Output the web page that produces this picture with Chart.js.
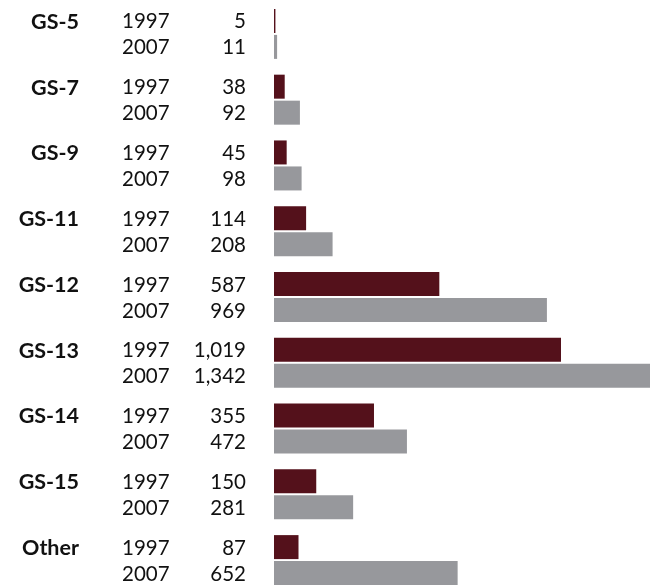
<!DOCTYPE html>
<html lang="en">
<head>
    <meta charset="UTF-8">
    <title>GS grades 1997 vs 2007</title>
    <script src="https://cdn.jsdelivr.net/npm/chart.js"></script>
    <style>
        body {
            margin: 0;
            background: #fff;
            overflow: hidden;
        }
        .grafico {
            position: relative;
            width: 650px;
            height: 593px;
        }
    </style>
</head>
<body>
    <div class="grafico">
        <canvas id="grafica"></canvas>
    </div>

    <script>
        // datos
        const grados = ['GS-5', 'GS-7', 'GS-9', 'GS-11', 'GS-12', 'GS-13', 'GS-14', 'GS-15', 'Other'];
        const anios = ['1997', '2007'];
        const valores1997 = [5, 38, 45, 114, 587, 1019, 355, 150, 87];
        const valores2007 = [11, 92, 98, 208, 969, 1342, 472, 281, 652];

        const FUENTE = 'Lato, "Noto Sans", sans-serif';

        // columnas de texto a la izquierda: grado, anio, valor
        const etiquetas = {
            id: 'etiquetas',
            afterDatasetsDraw(chart) {
                const c = chart.ctx;
                const m0 = chart.getDatasetMeta(0);
                const m1 = chart.getDatasetMeta(1);
                c.save();
                c.fillStyle = '#111';
                c.textBaseline = 'middle';
                grados.forEach((g, i) => {
                    const y1 = m0.data[i].y + 1;
                    const y2 = m1.data[i].y + 1;
                    c.font = 'bold 21.5px ' + FUENTE;
                    c.textAlign = 'right';
                    c.fillText(g, 79, y1);
                    c.font = '20.5px ' + FUENTE;
                    c.textAlign = 'left';
                    c.fillText(anios[0], 122, y1);
                    c.fillText(anios[1], 122, y2);
                    c.textAlign = 'right';
                    c.fillText(valores1997[i].toLocaleString('en-US'), 246, y1);
                    c.fillText(valores2007[i].toLocaleString('en-US'), 246, y2);
                });
                c.restore();
            }
        };

        const ctx = document.getElementById('grafica').getContext('2d');
        const grafica = new Chart(ctx, {
            type: 'bar',
            data: {
                labels: grados,
                datasets: [{
                    label: anios[0],
                    data: valores1997,
                    backgroundColor: '#54111b'
                }, {
                    label: anios[1],
                    data: valores2007,
                    backgroundColor: '#97989c'
                }]
            },
            options: {
                indexAxis: 'y',
                responsive: true,
                maintainAspectRatio: false,
                animation: false,
                layout: { padding: { left: 274, top: 1, right: 0, bottom: 0 } },
                datasets: {
                    bar: {
                        categoryPercentage: 0.7906,
                        barPercentage: 0.923,
                        borderWidth: 0
                    }
                },
                scales: {
                    // la barra mas larga queda cortada en el borde derecho
                    x: { display: false, min: 0, max: 1335 },
                    y: { display: false }
                },
                plugins: {
                    legend: { display: false },
                    tooltip: { enabled: false }
                }
            },
            plugins: [etiquetas]
        });
    </script>
</body>
</html>
